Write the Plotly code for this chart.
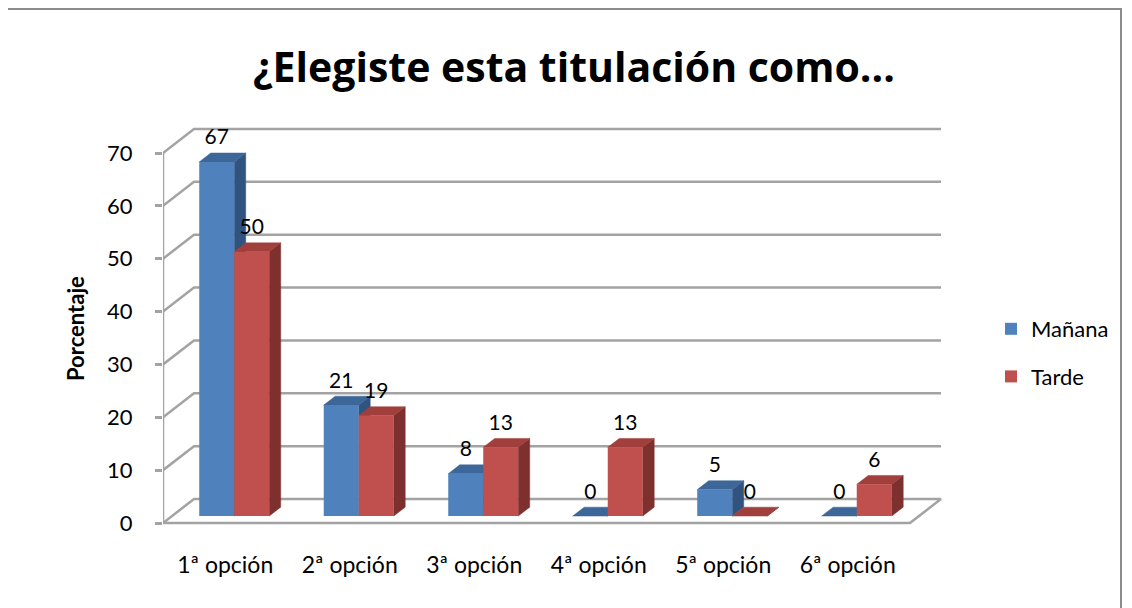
import plotly.graph_objects as go

# ---------------- data ----------------
categories = ["1ª opción", "2ª opción", "3ª opción", "4ª opción", "5ª opción", "6ª opción"]
manana = [67, 21, 8, 0, 5, 0]
tarde = [50, 19, 13, 13, 0, 6]
series_names = ["Mañana", "Tarde"]
y_ticks = [0, 10, 20, 30, 40, 50, 60, 70]
title_text = "¿Elegiste esta titulación como..."
y_title = "Porcentaje"

# ---------------- style / geometry (page pixel coordinates) ----------------
PAGE_OFF = 8                    # default body margin of the html page
FW, FH = 1132 - PAGE_OFF, 608 - PAGE_OFF
L_PX, R_PX, T_PX, B_PX = 163, 945, 120, 530
PX_X = 124.5            # pixels per category
PX_V = 370 / 70         # pixels per value unit
ZERO_PX = 523           # pixel row of value 0 on the front edge
X_RANGE = [-0.5, -0.5 + (R_PX - L_PX) / PX_X]
Y_RANGE = [-(B_PX - ZERO_PX) / PX_V, (ZERO_PX - T_PX) / PX_V]

WX = 31 / PX_X          # wall depth (x units)
WV = 24 / PX_V          # wall depth (value units)
Z1, Z2 = 0.29, 0.66     # bar front / back depth as fraction of wall depth
BW = 35 / PX_X          # bar width
DX, DV = (Z2 - Z1) * WX, (Z2 - Z1) * WV
BASE = Z1 * WV
LABEL_OFF = 4.3

FONT = "Lato, 'Open Sans', sans-serif"
TITLE_FONT = "'Open Sans', sans-serif"
GRID_COL = "#A3A3A3"
colors = {
    "Mañana": dict(front="#4F81BD", top="#3D6798", side="#30547F"),
    "Tarde": dict(front="#C0504D", top="#A03F3C", side="#7D302E"),
}


def px_to_paper_x(px):
    return (px - L_PX) / (R_PX - L_PX)


def px_to_paper_y(py):
    return (B_PX - py) / (B_PX - T_PX)


fig = go.Figure()

# ---------------- walls / gridlines ----------------
n = len(categories)
gx, gy = [], []
for v in y_ticks[1:]:
    gx += [-0.5, -0.5 + WX, n - 0.5 + WX, None]
    gy += [v, v + WV, v + WV, None]
# floor
gx += [-0.5, n - 0.5, n - 0.5 + WX, -0.5 + WX, -0.5, None]
gy += [0, 0, WV, WV, 0, None]
# vertical axis line
gx += [-0.5, -0.5]
gy += [0, y_ticks[-1]]
fig.add_trace(go.Scatter(x=gx, y=gy, mode="lines", line=dict(color=GRID_COL, width=2.5),
                         hoverinfo="skip", showlegend=False, zorder=0))

# ---------------- 3D bars ----------------
for si, (name, vals) in enumerate(zip(series_names, [manana, tarde])):
    c = colors[name]
    lefts = [i - BW + si * BW + Z1 * WX for i in range(n)]
    sx, sy, tx, ty = [], [], [], []
    for xl, v in zip(lefts, vals):
        xr = xl + BW
        top = v + BASE
        # side face
        sx += [xr, xr, xr + DX, xr + DX, xr, None]
        sy += [BASE, top, top + DV, BASE + DV, BASE, None]
        # top face
        tx += [xl, xr, xr + DX, xl + DX, xl, None]
        ty += [top, top, top + DV, top + DV, top, None]
    fig.add_trace(go.Scatter(x=sx, y=sy, mode="lines", fill="toself", fillcolor=c["side"],
                             line=dict(color=c["side"], width=0.5), hoverinfo="skip",
                             showlegend=False, zorder=1))
    fig.add_trace(go.Scatter(x=tx, y=ty, mode="lines", fill="toself", fillcolor=c["top"],
                             line=dict(color=c["top"], width=0.5), hoverinfo="skip",
                             showlegend=False, zorder=1))
    centers = [xl + BW / 2 for xl in lefts]
    fig.add_trace(go.Bar(x=centers, y=vals, base=[BASE] * n, width=BW, name=name,
                         marker=dict(color=c["front"], line=dict(width=0)),
                         legendgroup=name, zorder=2))
    fig.add_trace(go.Scatter(x=centers, y=[v + BASE + LABEL_OFF for v in vals],
                             text=[str(v) for v in vals], mode="text",
                             textposition="middle center",
                             textfont=dict(family=FONT, size=21, color="#000000"),
                             hoverinfo="skip", showlegend=False, zorder=3))

# ---------------- layout ----------------
fig.update_layout(
    width=FW, height=FH,
    margin=dict(l=L_PX - PAGE_OFF, r=PAGE_OFF + FW - R_PX, t=T_PX - PAGE_OFF,
                b=PAGE_OFF + FH - B_PX, autoexpand=False),
    paper_bgcolor="white", plot_bgcolor="white",
    barmode="overlay",
    font=dict(family=FONT, size=20, color="#000000"),
    title=dict(text="<b>" + title_text + "</b>", x=(574 - PAGE_OFF) / FW, xref="container",
               xanchor="center", y=1 - (68 - PAGE_OFF) / FH, yref="container",
               yanchor="middle", font=dict(family=TITLE_FONT, size=41, color="#000000")),
    xaxis=dict(range=X_RANGE, showgrid=False, zeroline=False, showline=False,
               tickmode="array", tickvals=list(range(n)), ticktext=categories,
               ticks="", ticklabelstandoff=19, tickfont=dict(family=FONT, size=23),
               fixedrange=True),
    yaxis=dict(range=Y_RANGE, showgrid=False, zeroline=False, showline=False,
               tickmode="array", tickvals=y_ticks, ticktext=[str(t) for t in y_ticks],
               ticks="outside", ticklen=7, tickwidth=2.5, tickcolor=GRID_COL,
               ticklabelstandoff=18, tickfont=dict(family=FONT, size=22),
               fixedrange=True),
    legend=dict(x=px_to_paper_x(991), xanchor="left",
                y=px_to_paper_y(353), yanchor="middle",
                font=dict(family=FONT, size=22), traceorder="grouped", tracegroupgap=16,
                bgcolor="rgba(0,0,0,0)"),
    annotations=[dict(text="<b>" + y_title + "</b>", textangle=-90, showarrow=False,
                      xref="paper", yref="paper",
                      x=px_to_paper_x(75), y=px_to_paper_y(329),
                      xanchor="center", yanchor="middle",
                      font=dict(family=FONT, size=22, color="#000000"))],
    shapes=[dict(type="rect", xref="paper", yref="paper",
                 x0=px_to_paper_x(7), x1=px_to_paper_x(1121),
                 y0=px_to_paper_y(640), y1=px_to_paper_y(9),
                 line=dict(color="#8C8C8C", width=2), layer="below")],
)

fig.write_html("out.html")
